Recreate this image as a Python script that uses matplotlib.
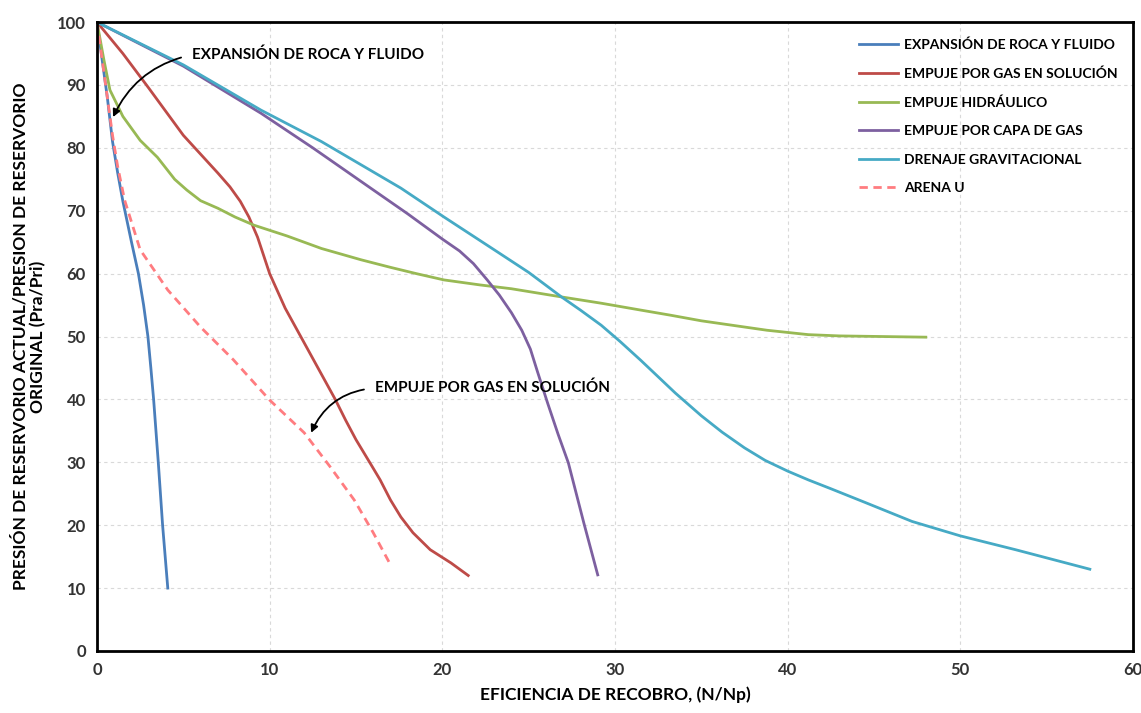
import matplotlib
matplotlib.use("Agg")
import matplotlib.pyplot as plt

plt.rcParams["font.family"] = ["Lato", "DejaVu Sans"]
plt.rcParams["font.weight"] = "bold"

# curves (x = recovery efficiency, y = Pra/Pri)
exp_x = [0, 0.3, 0.6, 0.9, 1.2, 1.5, 2.0, 2.4, 2.7, 2.95, 3.12, 3.28, 3.55, 3.8, 4.1]
exp_y = [100, 94, 88, 81, 76, 71.5, 65, 60, 55, 50, 45, 40, 30, 20, 10]

sol_x = [0, 1.5, 3, 5, 7, 7.7, 8.3, 8.8, 9.3, 10.0, 10.9, 11.8, 12.8, 13.8,
         14.4, 15.0, 15.9, 16.4, 17.0, 17.6, 18.3, 19.3, 20.5, 21.5]
sol_y = [100, 95, 89.5, 82, 76, 73.8, 71.5, 69, 65.8, 60, 54.5, 50, 45, 40,
         36.7, 33.6, 29.5, 27.2, 24, 21.3, 18.8, 16.1, 14, 12]

hid_x = [0, 0.4, 0.75, 1.5, 2.5, 3.5, 4.5, 5.2, 6.0, 7.0, 8.0, 9.1, 11, 13,
         15.3, 17, 18.5, 20.1, 22.2, 24, 26.9, 29.2, 31.5, 33.2, 35, 38.8,
         41.2, 43, 48]
hid_y = [100, 94, 89.2, 85, 81.2, 78.5, 75, 73.3, 71.6, 70.4, 69, 67.7, 66,
         64, 62.2, 61, 60, 59, 58.2, 57.6, 56.3, 55.3, 54.2, 53.4, 52.5, 51,
         50.3, 50.1, 49.9]

cap_x = [0, 5, 9.5, 12.5, 15.85, 18, 20, 21, 21.8, 22.6, 23.3, 24.0, 24.6,
         25.1, 25.5, 26.1, 26.7, 27.3, 28.2, 29.0]
cap_y = [100, 93, 85.5, 80, 73.6, 69.5, 65.5, 63.6, 61.6, 59.0, 56.6, 53.8,
         51, 48, 44.5, 39.4, 34.5, 29.9, 20.3, 12.1]

grav_x = [0, 5, 9.5, 13, 17.6, 20.1, 23, 25, 26.9, 28, 29.2, 30.3, 31.5,
          32.5, 33.5, 35, 36.2, 37.5, 38.7, 40, 41.2, 42.5, 44.5, 47.2, 50,
          53.2, 57.5]
grav_y = [100, 93.2, 86, 81, 73.6, 69, 63.8, 60.2, 56.3, 54.2, 51.8, 49.2,
          46.2, 43.6, 41, 37.4, 34.8, 32.3, 30.3, 28.6, 27.2, 25.8, 23.6,
          20.6, 18.3, 16.1, 13]

arena_x = [0, 0.3, 0.6, 0.9, 1.2, 1.6, 2.5, 4.1, 6.0, 7.9, 10.0, 12.0,
           13.5, 14.9, 16.0, 17.0]
arena_y = [100, 94, 88, 82, 77, 71.7, 63.8, 57.4, 51.5, 46.3, 39.9, 34.7,
           29.3, 24, 18.8, 13.7]

fig = plt.figure(figsize=(11.41, 7.13), dpi=100)
ax = fig.add_axes([0.085, 0.087, 0.908, 0.882])

lw = 2.0
ax.plot(exp_x, exp_y, color="#4A7EBB", lw=lw, label="EXPANSIÓN DE ROCA Y FLUIDO")
ax.plot(sol_x, sol_y, color="#BE4B48", lw=lw, label="EMPUJE POR GAS EN SOLUCIÓN")
ax.plot(hid_x, hid_y, color="#98B954", lw=lw, label="EMPUJE HIDRÁULICO")
ax.plot(cap_x, cap_y, color="#7D60A0", lw=lw, label="EMPUJE POR CAPA DE GAS")
ax.plot(grav_x, grav_y, color="#46AAC5", lw=lw, label="DRENAJE GRAVITACIONAL")
ax.plot(arena_x, arena_y, color="#FF7C80", lw=lw, ls=(0, (3, 2)), label="ARENA U")

ax.set_xlim(0, 60)
ax.set_ylim(0, 100)
ax.set_xticks(range(0, 61, 10))
ax.set_yticks(range(0, 101, 10))
ax.tick_params(length=0, labelsize=12, labelcolor="#333333", pad=8)
for lab in ax.get_xticklabels() + ax.get_yticklabels():
    lab.set_fontweight("bold")
ax.grid(True, color="#d9d9d9", ls=(0, (3, 3)), lw=0.8)
for sp in ax.spines.values():
    sp.set_linewidth(2)
    sp.set_color("black")

ax.set_xlabel("EFICIENCIA DE RECOBRO, (N/Np)", fontsize=12.5, fontweight="bold", labelpad=6)
ax.set_ylabel("PRESIÓN DE RESERVORIO ACTUAL/PRESION DE RESERVORIO\nORIGINAL (Pra/Pri)",
              fontsize=12.5, fontweight="bold", labelpad=8, linespacing=1.1)

ax.legend(loc="upper left", bbox_to_anchor=(0.729, 0.985), frameon=False,
          prop={"size": 10, "weight": "bold"}, handlelength=2.8,
          labelspacing=1.18, borderpad=0, handletextpad=0.4)

ax.annotate("EXPANSIÓN DE ROCA Y FLUIDO", xy=(0.93, 84.9), xytext=(5.5, 94.8),
            fontsize=11, fontweight="bold", va="center",
            arrowprops=dict(arrowstyle="-|>", color="black", lw=1.3,
                            connectionstyle="arc3,rad=0.25", relpos=(0, 0.5),
                            shrinkA=6, shrinkB=0))
ax.annotate("EMPUJE POR GAS EN SOLUCIÓN", xy=(12.4, 34.7), xytext=(16.1, 41.8),
            fontsize=11, fontweight="bold", va="center",
            arrowprops=dict(arrowstyle="-|>", color="black", lw=1.3,
                            connectionstyle="arc3,rad=0.3", relpos=(0, 0.5),
                            shrinkA=6, shrinkB=0))

fig.savefig("out.png", dpi=100)
